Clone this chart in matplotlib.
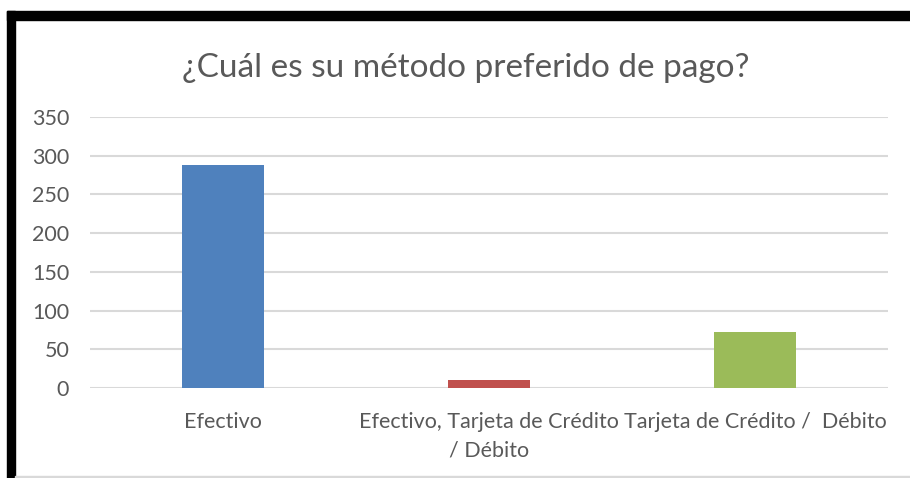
import matplotlib
matplotlib.use("Agg")
import matplotlib.pyplot as plt
from matplotlib.patches import Rectangle

categories = ["Efectivo", "Efectivo, Tarjeta de Crédito\n/ Débito", "Tarjeta de Crédito /  Débito"]
values = [288, 10, 72]
colors = ["#4F81BD", "#C0504D", "#9BBB59"]
yticks = [0, 50, 100, 150, 200, 250, 300, 350]
title = "¿Cuál es su método preferido de pago?"

plt.rcParams['font.family'] = ['Lato', 'DejaVu Sans']

fig = plt.figure(figsize=(9.10, 4.78), dpi=100)
ax = fig.add_axes([90/910, 1-388/478, 798/910, (388-117)/478])

x = list(range(len(categories)))
ax.bar(x, values, width=0.31, color=colors, zorder=3)
ax.set_xlim(-0.5, len(categories)-0.5)
ax.set_ylim(0, 350)
ax.set_yticks(yticks)
ax.set_xticks(x)
ax.set_xticklabels(categories, fontsize=15.5, color="#595959", linespacing=1.55)
ax.tick_params(axis='y', labelsize=15.5, colors="#595959", length=0, pad=15)
ax.tick_params(axis='x', length=0, pad=17)
ax.grid(axis='y', color="#D9D9D9", linewidth=1.5, zorder=0)
for s in ax.spines.values():
    s.set_visible(False)

fig.text(466/910, 1-68/478, title, fontsize=24, color="#595959", ha='center', va='center')

# black border
fig.patches.append(Rectangle((7/910, 0), 8/910, 1-11/478, transform=fig.transFigure, color='black', zorder=10))
fig.patches.append(Rectangle((7/910, 1-20/478), 1-7/910, 9/478, transform=fig.transFigure, color='black', zorder=10))
fig.patches.append(Rectangle((15/910, 0), 1-15/910, 2/478, transform=fig.transFigure, color='#D9D9D9', zorder=10))

fig.savefig("out.png", dpi=100)
